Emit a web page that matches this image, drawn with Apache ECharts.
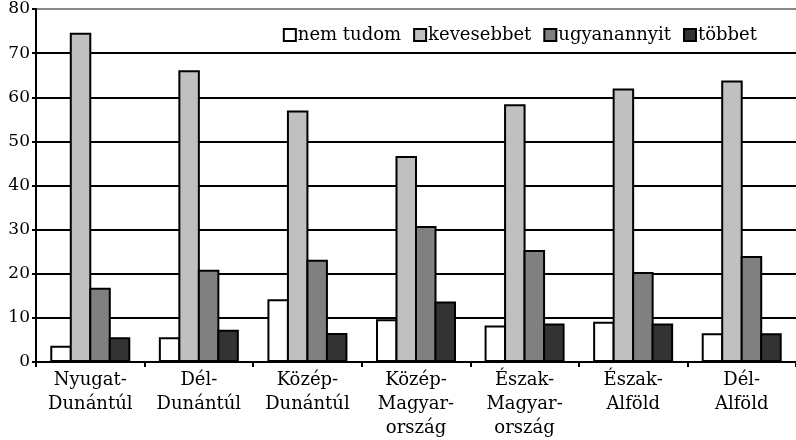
<!DOCTYPE html>
<html>
<head>
<meta charset="utf-8">
<script src="https://cdn.jsdelivr.net/npm/echarts@6/dist/echarts.min.js"></script>
<style>
  html, body { margin: 0; padding: 0; background: #fff; }
  #chart { width: 796px; height: 440px; }
</style>
</head>
<body>
<div id="chart"></div>
<script>
// régiók (x tengely)
const regions = ['Nyugat-\nDunántúl', 'Dél-\nDunántúl', 'Közép-\nDunántúl', 'Közép-\nMagyar-\nország',
  'Észak-\nMagyar-\nország', 'Észak-\nAlföld', 'Dél-\nAlföld'];
const seriesNames = ['nem tudom', 'kevesebbet', 'ugyanannyit', 'többet'];

// értékek (%)
const nemTudom = [3.7, 5.6, 14.2, 9.7, 8.3, 9.1, 6.5];
const kevesebbet = [74.6, 66.1, 57.0, 46.7, 58.4, 62.0, 63.8];
const ugyanannyit = [16.8, 20.9, 23.2, 30.8, 25.4, 20.4, 24.0];
const tobbet = [5.6, 7.3, 6.6, 13.7, 8.7, 8.7, 6.5];

const yTicks = [0, 10, 20, 30, 40, 50, 60, 70, 80];

const fills = ['#ffffff', '#c0c0c0', '#808080', '#333333'];
const font = 'DejaVu Serif';

const chart = echarts.init(document.getElementById('chart'));

// a szegély a téglalapon belül van, ezért egy vonalnyit átfedjük a szomszédos oszlopokat
function bar(name, data, i) {
  return {
    name: name,
    type: 'bar',
    data: data,
    barWidth: 21.5,
    barGap: '-9.3%',
    itemStyle: { color: fills[i], borderColor: '#000', borderWidth: 2 }
  };
}

chart.setOption({
  animation: false,
  grid: { left: 36, right: 0, top: 9, bottom: 77 },
  legend: {
    right: 34,
    top: 21,
    icon: 'rect',
    itemWidth: 12,
    itemHeight: 12,
    itemGap: 12,
    textStyle: { fontFamily: font, fontSize: 18, color: '#000', padding: [0, 0, 0, -3] },
    data: seriesNames
  },
  xAxis: {
    type: 'category',
    data: regions,
    axisLine: { lineStyle: { color: '#000', width: 2 } },
    axisTick: { show: true, length: 5, lineStyle: { color: '#000', width: 2 } },
    axisLabel: { interval: 0, fontFamily: font, fontSize: 18, color: '#000', lineHeight: 24, margin: 6 }
  },
  yAxis: {
    type: 'value',
    min: 0,
    max: 80,
    interval: 10,
    axisLine: { show: true, lineStyle: { color: '#000', width: 2 } },
    axisTick: { show: true, length: 4, lineStyle: { color: '#000', width: 2 } },
    axisLabel: {
      fontFamily: font, fontSize: 17, color: '#000', margin: 6,
      formatter: v => (yTicks.indexOf(v) >= 0 ? String(v) : '')
    },
    splitLine: {
      show: true,
      lineStyle: { color: ['#000', '#000', '#000', '#000', '#000', '#000', '#000', '#000', '#888'], width: 2 }
    }
  },
  series: [
    bar(seriesNames[0], nemTudom, 0),
    bar(seriesNames[1], kevesebbet, 1),
    bar(seriesNames[2], ugyanannyit, 2),
    bar(seriesNames[3], tobbet, 3)
  ]
});
</script>
</body>
</html>
